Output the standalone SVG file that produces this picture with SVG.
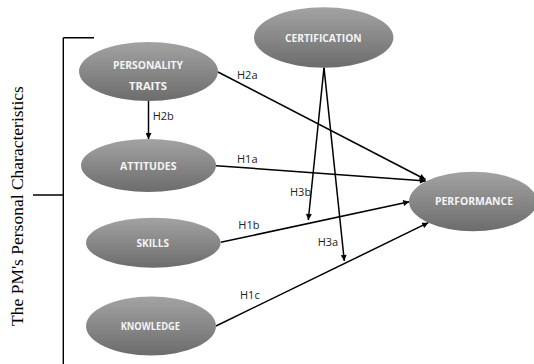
<svg xmlns="http://www.w3.org/2000/svg" width="534" height="364" viewBox="0 0 534 364">
<defs>
<linearGradient id="g" x1="0" y1="0" x2="0" y2="1">
<stop offset="0" stop-color="#a3a3a3"/>
<stop offset="1" stop-color="#6c6c6c"/>
</linearGradient>
<marker id="ah" viewBox="0 0 10 10" refX="10" refY="5" markerWidth="7" markerHeight="6" markerUnits="userSpaceOnUse" orient="auto">
<path d="M0,0 L10,5 L0,10 z" fill="#000"/>
</marker>
<style>
.n{fill:url(#g);stroke:none}
.t{font-family:"Open Sans","Liberation Sans",sans-serif;font-weight:bold;font-size:11px;fill:#f4f4f4;text-anchor:middle}
.l{font-family:"Open Sans","Liberation Sans",sans-serif;font-size:11px;fill:#222}
.c{stroke:#000;stroke-width:1.5;fill:none;marker-end:url(#ah)}
.b{stroke:#000;stroke-width:1.4;fill:none}
</style>
</defs>
<rect width="534" height="364" fill="#fff"/>
<g id="bracket">
<path class="b" d="M63.3,37.7 V364 M63.3,37.7 H94 M33,195 H63.3"/>
<text transform="translate(22.5,206) rotate(-90)" font-family="'Liberation Serif','Times New Roman',serif" font-size="17.5" text-anchor="middle" fill="#000">The PM's Personal Characteristics</text>
</g>
<g id="connectors">
<line class="c" x1="218" y1="72" x2="425.5" y2="179.5"/>
<line class="c" x1="148.5" y1="101" x2="148.5" y2="139"/>
<line class="c" x1="216" y1="165.7" x2="426" y2="181"/>
<line class="c" x1="220.7" y1="242.3" x2="409.3" y2="201.7"/>
<line class="c" x1="216" y1="326" x2="428.3" y2="222.7"/>
<line class="c" x1="324" y1="67.7" x2="308.3" y2="220"/>
<line class="c" x1="324" y1="67.7" x2="344.3" y2="261"/>
<text class="l" x="237" y="78.5">H2a</text>
<text class="l" x="152.7" y="119.5">H2b</text>
<text class="l" x="237" y="162.7">H1a</text>
<text class="l" x="238.3" y="229.3">H1b</text>
<text class="l" x="240" y="299">H1c</text>
<text class="l" x="290" y="196">H3b</text>
<text class="l" x="317.7" y="246">H3a</text>
</g>
<g id="personality">
<ellipse class="n" cx="148.5" cy="71.5" rx="69.5" ry="29.5"/>
<text class="t" x="148" y="68.5" textLength="70" lengthAdjust="spacingAndGlyphs">PERSONALITY</text>
<text class="t" x="148" y="90" textLength="38" lengthAdjust="spacingAndGlyphs">TRAITS</text>
</g>
<g id="attitudes">
<ellipse class="n" cx="148.5" cy="165.5" rx="67.5" ry="26.5"/>
<text class="t" x="148.3" y="170" textLength="56.5" lengthAdjust="spacingAndGlyphs">ATTITUDES</text>
</g>
<g id="skills">
<ellipse class="n" cx="153.3" cy="242.7" rx="67.3" ry="25"/>
<text class="t" x="152.8" y="246.7" textLength="32.5" lengthAdjust="spacingAndGlyphs">SKILLS</text>
</g>
<g id="knowledge">
<ellipse class="n" cx="151" cy="326" rx="65" ry="29.5"/>
<text class="t" x="150.3" y="330" style="font-size:10px" textLength="59.3" lengthAdjust="spacingAndGlyphs">KNOWLEDGE</text>
</g>
<g id="certification">
<ellipse class="n" cx="323.7" cy="37.5" rx="69.7" ry="30.2"/>
<text class="t" x="323.3" y="42.3" textLength="76.7" lengthAdjust="spacingAndGlyphs">CERTIFICATION</text>
</g>
<g id="performance">
<ellipse class="n" cx="473" cy="201.5" rx="64" ry="29.7"/>
<text class="t" x="474" y="204.5" textLength="78" lengthAdjust="spacingAndGlyphs">PERFORMANCE</text>
</g>
</svg>
